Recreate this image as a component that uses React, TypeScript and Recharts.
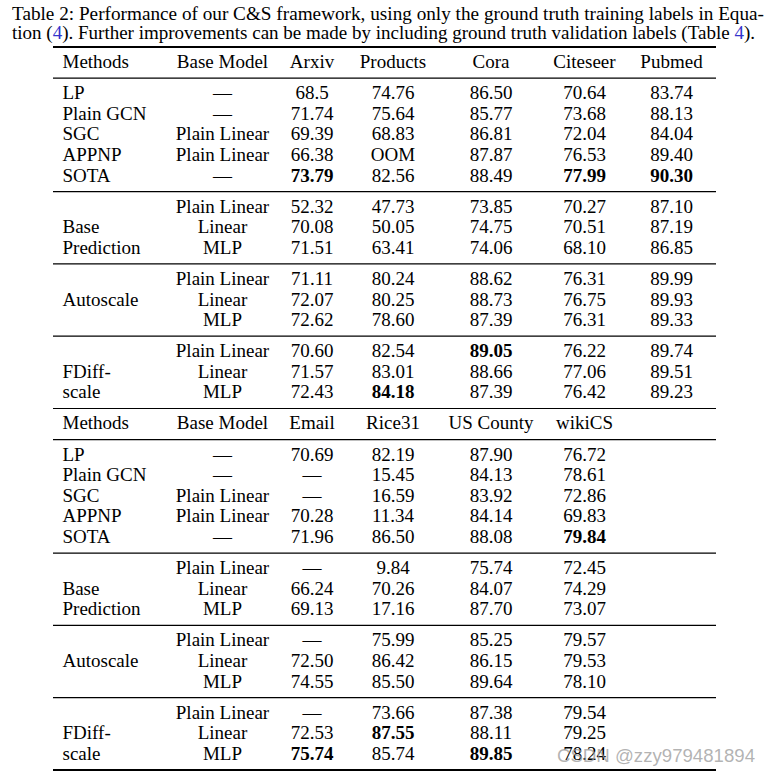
import { ScatterChart, Scatter, XAxis, YAxis, ReferenceLine } from "recharts";

const SERIF = "'Liberation Serif', 'Times New Roman', serif";

const captionLine1 = "Table 2: Performance of our C&S framework, using only the ground truth training labels in Equa-";
const captionLine2 = ["tion (", "4", "). Further improvements can be made by including ground truth validation labels (Table ", "4", ")."];
const watermark = "CSDN @zzy979481894";

const topDatasets = ["Arxiv", "Products", "Cora", "Citeseer", "Pubmed"];
const bottomDatasets = ["Email", "Rice31", "US County", "wikiCS"];

const baselineMethods = ["LP", "Plain GCN", "SGC", "APPNP", "SOTA"];
const baselineModels = ["—", "—", "Plain Linear", "Plain Linear", "—"];
const csModels = ["Plain Linear", "Linear", "MLP"];
const csLabels = [
  ["", "Base", "Prediction"],
  ["", "Autoscale", ""],
  ["", "FDiff-", "scale"],
];

// top half
const topBaselines = [
  ["68.5", "74.76", "86.50", "70.64", "83.74"],
  ["71.74", "75.64", "85.77", "73.68", "88.13"],
  ["69.39", "68.83", "86.81", "72.04", "84.04"],
  ["66.38", "OOM", "87.87", "76.53", "89.40"],
  ["73.79", "82.56", "88.49", "77.99", "90.30"],
];
const topBasePred = [
  ["52.32", "47.73", "73.85", "70.27", "87.10"],
  ["70.08", "50.05", "74.75", "70.51", "87.19"],
  ["71.51", "63.41", "74.06", "68.10", "86.85"],
];
const topAutoscale = [
  ["71.11", "80.24", "88.62", "76.31", "89.99"],
  ["72.07", "80.25", "88.73", "76.75", "89.93"],
  ["72.62", "78.60", "87.39", "76.31", "89.33"],
];
const topFDiff = [
  ["70.60", "82.54", "89.05", "76.22", "89.74"],
  ["71.57", "83.01", "88.66", "77.06", "89.51"],
  ["72.43", "84.18", "87.39", "76.42", "89.23"],
];
// [block, row, column] of bold entries
const topBest = [[0, 4, 0], [0, 4, 3], [0, 4, 4], [3, 0, 2], [3, 2, 1]];

// bottom half
const bottomBaselines = [
  ["70.69", "82.19", "87.90", "76.72"],
  ["—", "15.45", "84.13", "78.61"],
  ["—", "16.59", "83.92", "72.86"],
  ["70.28", "11.34", "84.14", "69.83"],
  ["71.96", "86.50", "88.08", "79.84"],
];
const bottomBasePred = [
  ["—", "9.84", "75.74", "72.45"],
  ["66.24", "70.26", "84.07", "74.29"],
  ["69.13", "17.16", "87.70", "73.07"],
];
const bottomAutoscale = [
  ["—", "75.99", "85.25", "79.57"],
  ["72.50", "86.42", "86.15", "79.53"],
  ["74.55", "85.50", "89.64", "78.10"],
];
const bottomFDiff = [
  ["—", "73.66", "87.38", "79.54"],
  ["72.53", "87.55", "88.11", "79.25"],
  ["75.74", "85.74", "89.85", "78.24"],
];
const bottomBest = [[0, 4, 3], [3, 1, 1], [3, 2, 0], [3, 2, 2]];

// layout of the table grid
const colWidths = [114, 111, 68, 94, 102, 85, 89];
const TABLE_W = colWidths.reduce((a, b) => a + b, 0);
const colStarts = colWidths.map((_, i) => colWidths.slice(0, i).reduce((a, b) => a + b, 0));
const colX = (i: number) => (i === 0 ? 9.5 : colStarts[i] + colWidths[i] / 2);
const LEAD = 0.714;
const GAP = 0.505;

type Row = { method: string; model: string; values: string[]; bold?: boolean[] };
type Cell = { x: number; y: number; label: string; bold: boolean; anchor: "start" | "middle" };

const cells: Cell[] = [];
const rules: { y: number; thick: boolean }[] = [{ y: 0, thick: true }];
let cursor = 0;

function addSection(rows: Row[]) {
  rows.forEach((r, i) => {
    const y = cursor + LEAD + i;
    if (r.method) cells.push({ x: colX(0), y, label: r.method, bold: false, anchor: "start" });
    if (r.model) cells.push({ x: colX(1), y, label: r.model, bold: false, anchor: "middle" });
    r.values.forEach((v, j) => {
      cells.push({ x: colX(j + 2), y, label: v, bold: !!r.bold?.[j], anchor: "middle" });
    });
  });
  cursor += rows.length + GAP;
  rules.push({ y: cursor, thick: false });
}

function addHalf(datasets: string[], blocks: string[][][], best: number[][]) {
  addSection([{ method: "Methods", model: "Base Model", values: datasets }]);
  blocks.forEach((block, b) => {
    const rows: Row[] = block.map((vals, r) => ({
      method: b === 0 ? baselineMethods[r] : csLabels[b - 1][r],
      model: b === 0 ? baselineModels[r] : csModels[r],
      values: vals,
      bold: vals.map((_, c) => best.some(([bb, rr, cc]) => bb === b && rr === r && cc === c)),
    }));
    addSection(rows);
  });
}

addHalf(topDatasets, [topBaselines, topBasePred, topAutoscale, topFDiff], topBest);
addHalf(bottomDatasets, [bottomBaselines, bottomBasePred, bottomAutoscale, bottomFDiff], bottomBest);
rules[rules.length - 1].thick = true;
const TOTAL = cursor;

function CellText(props: any) {
  const { cx, cy, payload } = props;
  return (
    <text
      x={cx}
      y={cy}
      dy="0.33em"
      textAnchor={payload.anchor}
      fontFamily={SERIF}
      fontSize={19}
      fontWeight={payload.bold ? 700 : 400}
      fill="#000"
    >
      {payload.label}
    </text>
  );
}

export default function App() {
  return (
    <div style={{ position: "absolute", left: 0, top: 0, width: 771, height: 777, background: "#fff" }}>
      <ScatterChart width={771} height={777} margin={{ top: 47, right: 771 - 53 - TABLE_W, bottom: 7, left: 53 }}>
        <XAxis type="number" dataKey="x" domain={[0, TABLE_W]} hide />
        <YAxis type="number" dataKey="y" domain={[0, TOTAL]} reversed hide />
        {rules.map((r, i) => (
          <ReferenceLine key={i} y={r.y} stroke="#000" strokeWidth={r.thick ? 2.2 : 1.2} />
        ))}
        <Scatter data={cells} shape={CellText} isAnimationActive={false} />
      </ScatterChart>
      <svg width={771} height={777} style={{ position: "absolute", left: 0, top: 0, pointerEvents: "none" }}>
        <text x={12} y={19.5} fontFamily={SERIF} fontSize={19} fill="#000" textLength={752} lengthAdjust="spacingAndGlyphs">
          {captionLine1}
        </text>
        <text x={12} y={38.5} fontFamily={SERIF} fontSize={19} fill="#000" textLength={743} lengthAdjust="spacingAndGlyphs">
          {captionLine2.map((s, i) => (
            <tspan key={i} fill={s === "4" ? "#3333cc" : "#000"}>{s}</tspan>
          ))}
        </text>
        <text x={557} y={762} fontFamily="'Liberation Sans', Arial, sans-serif" fontSize={18} fill="#9a9a9a" fillOpacity={0.75} textLength={198} lengthAdjust="spacingAndGlyphs">
          {watermark}
        </text>
      </svg>
    </div>
  );
}
